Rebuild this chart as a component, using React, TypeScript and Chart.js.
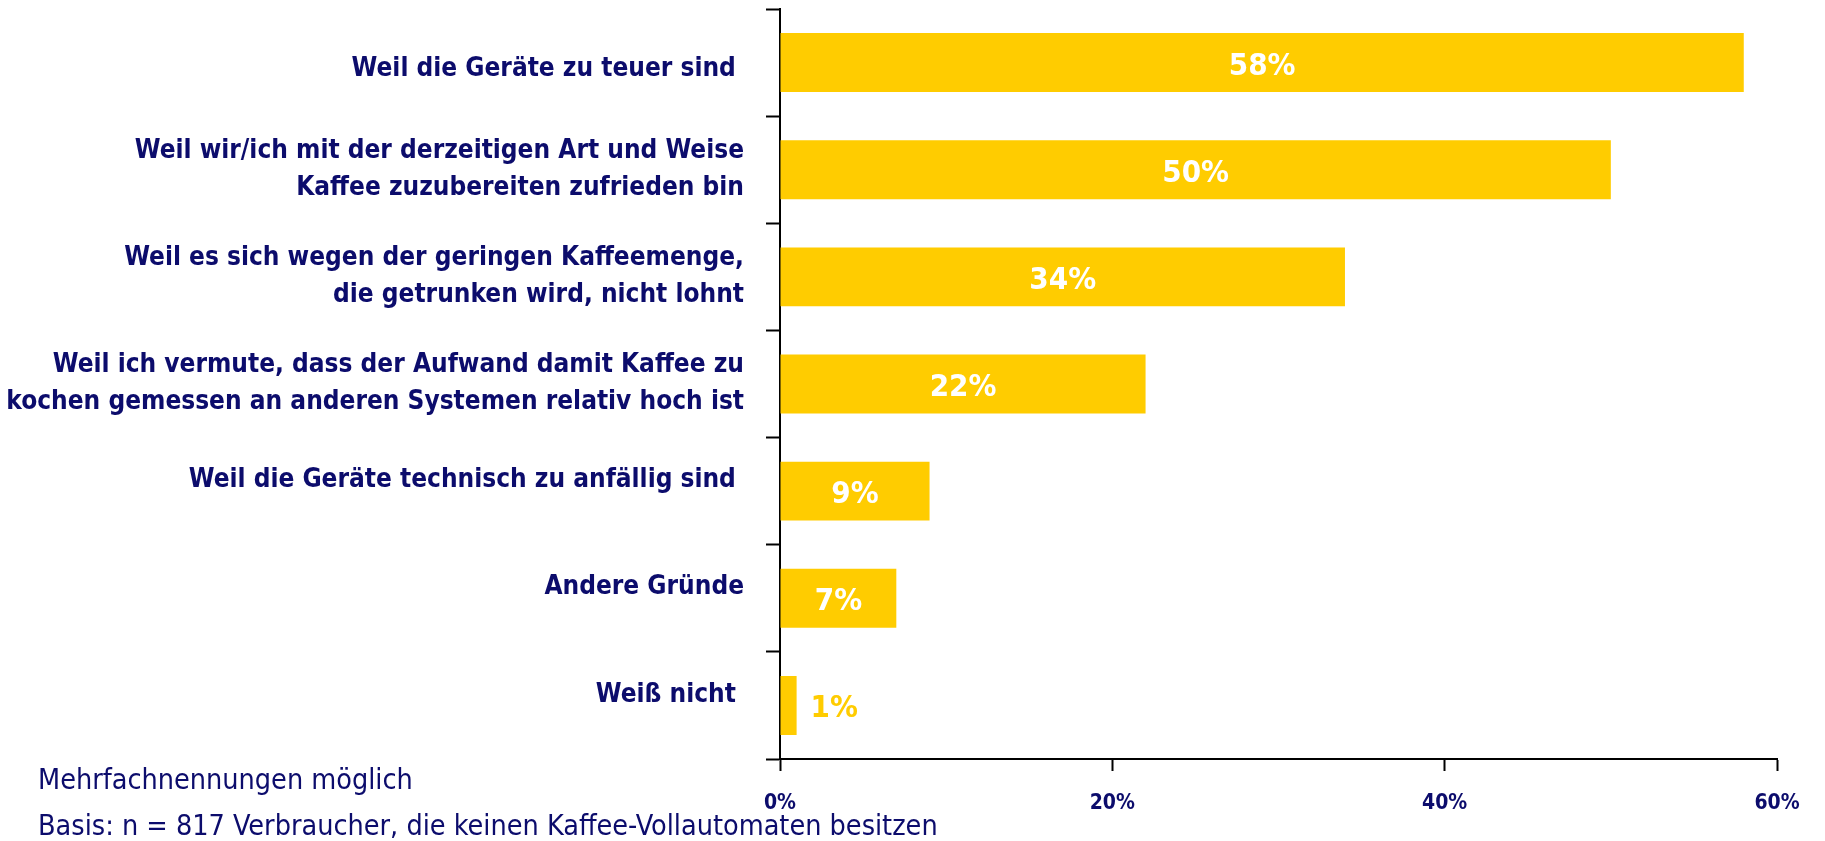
import React, { useEffect, useRef } from "react";
import { Chart, registerables } from "chart.js";

Chart.register(...registerables);

const categories: (string | string[])[] = [
  "Weil die Geräte zu teuer sind ",
  ["Weil wir/ich mit der derzeitigen Art und Weise", "Kaffee zuzubereiten zufrieden bin"],
  ["Weil es sich wegen der geringen Kaffeemenge,", "die getrunken wird, nicht lohnt"],
  ["Weil ich vermute, dass der Aufwand damit Kaffee zu", "kochen gemessen an anderen Systemen relativ hoch ist"],
  "Weil die Geräte technisch zu anfällig sind ",
  "Andere Gründe",
  "Weiß nicht ",
];
const values: number[] = [58, 50, 34, 22, 9, 7, 1];
const xTicks: number[] = [0, 20, 40, 60];
const footnotes: string[] = [
  "Mehrfachnennungen möglich",
  "Basis: n = 817 Verbraucher, die keinen Kaffee-Vollautomaten besitzen",
];

// styling
const NAVY = "#0c0c6c";
const YELLOW = "#ffcc00";
const FONT = "'DejaVu Sans Condensed', 'Liberation Sans Narrow', sans-serif";
const LABEL_FONT_SIZE = 26;
const LABEL_LINE_HEIGHT = 37;
const Y_TICK_LENGTH = 14;
const Y_LABEL_PAD = 22;
// small vertical nudges of the category text boxes, as in the original layout
const LABEL_NUDGE = [7, 0, 0, 0, -11, -11, -10];

const categoryLabels = {
  id: "categoryLabels",
  afterDraw(chart: any) {
    const ctx = chart.ctx;
    const ys = chart.scales.y;
    ctx.save();
    ctx.font = `bold ${LABEL_FONT_SIZE}px ${FONT}`;
    ctx.fillStyle = NAVY;
    ctx.textAlign = "right";
    ctx.textBaseline = "middle";
    const x = ys.right - Y_TICK_LENGTH - Y_LABEL_PAD;
    categories.forEach((lab, i) => {
      const lines = Array.isArray(lab) ? lab : [lab];
      const cy = ys.getPixelForValue(i) + (LABEL_NUDGE[i] || 0);
      lines.forEach((ln, j) => {
        ctx.fillText(ln, x, cy + (j - (lines.length - 1) / 2) * LABEL_LINE_HEIGHT);
      });
    });
    ctx.restore();
  },
};

const valueLabels = {
  id: "valueLabels",
  afterDatasetsDraw(chart: any) {
    const ctx = chart.ctx;
    const meta = chart.getDatasetMeta(0);
    ctx.save();
    ctx.font = `bold 31px ${FONT}`;
    ctx.textBaseline = "middle";
    meta.data.forEach((bar: any, i: number) => {
      const v = values[i];
      const txt = `${v}%`;
      if (v >= 5) {
        ctx.fillStyle = "#ffffff";
        ctx.textAlign = "center";
        ctx.fillText(txt, (bar.x + bar.base) / 2, bar.y + 4);
      } else {
        ctx.fillStyle = YELLOW;
        ctx.textAlign = "left";
        ctx.fillText(txt, bar.x + 14, bar.y + 4);
      }
    });
    ctx.restore();
  },
};

export default function App() {
  const ref = useRef<HTMLCanvasElement | null>(null);
  useEffect(() => {
    if (!ref.current) return;
    const chart = new Chart(ref.current, {
      type: "bar",
      data: {
        labels: categories,
        datasets: [
          {
            data: values,
            backgroundColor: YELLOW,
            borderWidth: 0,
            barPercentage: 0.55,
            categoryPercentage: 1,
          },
        ],
      },
      options: {
        indexAxis: "y",
        animation: false,
        responsive: true,
        maintainAspectRatio: false,
        layout: { padding: { top: 9, right: 48, left: 0, bottom: 0 } },
        plugins: { legend: { display: false }, tooltip: { enabled: false } },
        scales: {
          y: {
            offset: true,
            afterFit: (s: any) => {
              s.width = 780;
              s.paddingTop = 0;
              s.paddingBottom = 0;
            },
            grid: {
              display: true,
              offset: true,
              drawOnChartArea: false,
              drawTicks: true,
              tickLength: Y_TICK_LENGTH,
              tickWidth: 2,
              tickColor: "#000",
            },
            border: { display: true, color: "#000", width: 2 },
            ticks: { display: false },
          },
          x: {
            min: 0,
            max: 60,
            afterFit: (s: any) => {
              s.height = 82;
            },
            afterBuildTicks: (s: any) => {
              s.ticks = xTicks.map((v) => ({ value: v }));
            },
            grid: {
              display: true,
              drawOnChartArea: false,
              drawTicks: true,
              tickLength: 12,
              tickWidth: 2,
              tickColor: "#000",
            },
            border: { display: true, color: "#000", width: 2 },
            ticks: {
              color: NAVY,
              font: { family: FONT, size: 21, weight: "bold" },
              padding: 20,
              maxRotation: 0,
              callback: (v: any) => `${v}%`,
            },
          },
        },
      },
      plugins: [valueLabels, categoryLabels],
    });
    return () => chart.destroy();
  }, []);

  return (
    <div style={{ position: "fixed", left: 0, top: 0, width: 1825, height: 841, background: "#fff" }}>
      <canvas ref={ref} style={{ display: "block" }} />
      <div
        style={{
          position: "absolute",
          left: 38,
          top: 757,
          color: NAVY,
          fontFamily: FONT,
          fontSize: 28.5,
          lineHeight: "46px",
          whiteSpace: "nowrap",
        }}
      >
        {footnotes.map((f, i) => (
          <div key={i}>{f}</div>
        ))}
      </div>
    </div>
  );
}
